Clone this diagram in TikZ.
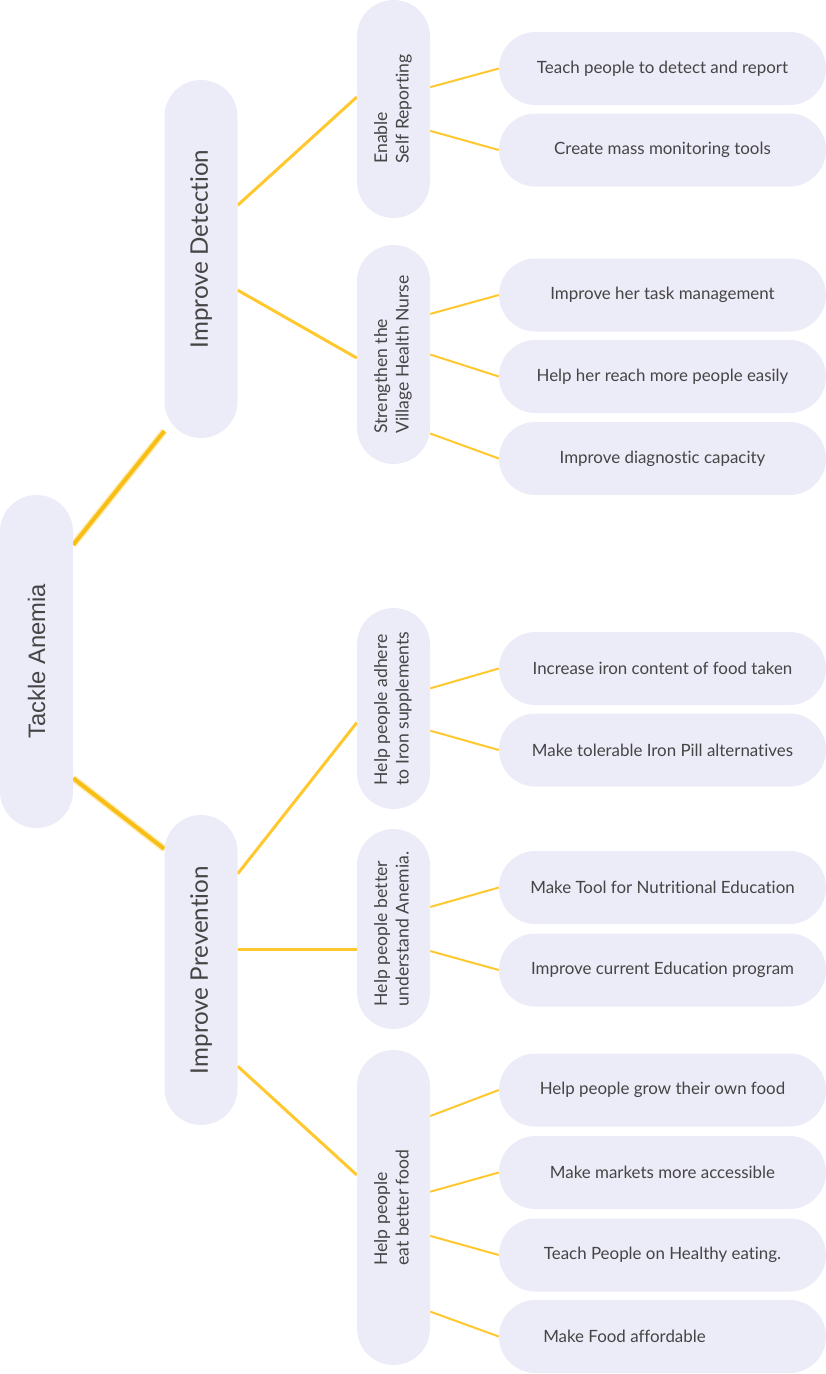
\documentclass[tikz,border=0pt]{standalone}
\usepackage{fontspec}
\setmainfont{Lato}[Ligatures=NoCommon]
\newfontfamily\rootfont{Liberation Sans}
\usetikzlibrary{calc,backgrounds}
\definecolor{pillfill}{HTML}{ECEBF8}
\definecolor{pilltext}{HTML}{454545}
\definecolor{linkcol}{HTML}{FFC82E}
\definecolor{rootcol}{HTML}{F8BE14}
\begin{document}
\begin{tikzpicture}[x=1pt, y=-1pt,
  pill/.style={fill=pillfill, text=pilltext, rounded corners=36.5pt, inner sep=0pt, minimum width=73pt},
  rootpill/.style={pill, minimum height=333pt, font=\rootfont\fontsize{23.8}{28}\selectfont},
  mainpill/.style={pill, font=\fontsize{24.2}{28}\selectfont},
  subpill/.style={pill, font=\fontsize{17.6}{21.5}\selectfont},
  leafpill/.style={pill, minimum width=327pt, minimum height=73pt, font=\fontsize{16.9}{20}\selectfont},
  rootlink/.style={draw=rootcol, line width=4pt, preaction={draw=rootcol, line width=7pt, opacity=0.3}},
  mainlink/.style={draw=linkcol, line width=3pt},
  leaflink/.style={draw=linkcol, line width=2pt}]
\useasboundingbox (0,0) rectangle (826,1374);

\node[rootpill] (anemia) at (36.5,661.5) {\rotatebox{90}{Tackle Anemia}};

\node[mainpill, minimum height=358pt] (detect) at (201,259) {\rotatebox{90}{\hspace*{20pt}Improve Detection}};
\node[mainpill, minimum height=310pt] (prevent) at (201,970) {\rotatebox{90}{Improve Prevention}};

\node[subpill, minimum height=218pt] (selfrep) at (393.5,109) {\rotatebox{90}{\begin{tabular}{@{}l@{}}Enable\\Self Reporting\end{tabular}}};
\node[subpill, minimum height=219pt] (nurse) at (393.5,354.5) {\rotatebox{90}{\begin{tabular}{@{}l@{}}Strengthen the\\Village Health Nurse\end{tabular}}};
\node[subpill, minimum height=201pt] (adhere) at (393.5,708.5) {\rotatebox{90}{\begin{tabular}{@{}l@{}}Help people adhere\\to Iron supplements\end{tabular}}};
\node[subpill, minimum height=200pt] (understand) at (393.5,929) {\rotatebox{90}{\begin{tabular}{@{}l@{}}Help people better\\understand Anemia.\end{tabular}}};
\node[subpill, minimum height=315pt] (eatfood) at (393.5,1207.5) {\rotatebox{90}{\begin{tabular}{@{}l@{}}Help people\\eat better food\end{tabular}}};

\node[leafpill] (teach) at (662.5,68.5) {Teach people to detect and report};
\node[leafpill] (monitor) at (662.5,150) {Create mass monitoring tools};
\node[leafpill] (task) at (662.5,295) {Improve her task management};
\node[leafpill] (reach) at (662.5,376.5) {Help her reach more people easily};
\node[leafpill] (diag) at (662.5,458.5) {Improve diagnostic capacity};
\node[leafpill] (ironfood) at (662.5,668.5) {Increase iron content of food taken};
\node[leafpill] (ironpill) at (662.5,750) {Make tolerable Iron Pill alternatives};
\node[leafpill] (nutri) at (662.5,887.5) {Make Tool for Nutritional Education};
\node[leafpill] (educ) at (662.5,970) {Improve current Education program};
\node[leafpill] (grow) at (662.5,1090) {Help people grow their own food};
\node[leafpill] (market) at (662.5,1172.5) {Make markets more accessible};
\node[leafpill] (healthy) at (662.5,1255) {Teach People on Healthy eating.};
\node[leafpill] (afford) at (662.5,1336.5) {Make Food affordable\hspace*{76pt}};

\begin{pgfonlayer}{background}
\draw[rootlink] ($(anemia.north east)!0.15!(anemia.south east)$) -- ($(detect.north west)!0.98!(detect.south west)$);
\draw[rootlink] ($(anemia.north east)!0.85!(anemia.south east)$) -- ($(prevent.north west)!0.11!(prevent.south west)$);

\coordinate (understand-in) at ($(understand.north west)!0.6!(understand.south west)$);
\draw[mainlink] ($(detect.north east)!0.35!(detect.south east)$) -- ($(selfrep.north west)!0.445!(selfrep.south west)$);
\draw[mainlink] ($(detect.north east)!0.587!(detect.south east)$) -- ($(nurse.north west)!0.516!(nurse.south west)$);
\draw[mainlink] ($(prevent.north east)!0.19!(prevent.south east)$) -- ($(adhere.north west)!0.57!(adhere.south west)$);
\draw[mainlink] (prevent.east |- understand-in) -- (understand-in);
\draw[mainlink] ($(prevent.north east)!0.81!(prevent.south east)$) -- ($(eatfood.north west)!0.397!(eatfood.south west)$);

\foreach \f/\leaf in {0.40/teach, 0.60/monitor}
  \draw[leaflink] ($(selfrep.north east)!\f!(selfrep.south east)$) -- (\leaf.west);
\foreach \f/\leaf in {0.315/task, 0.50/reach, 0.86/diag}
  \draw[leaflink] ($(nurse.north east)!\f!(nurse.south east)$) -- (\leaf.west);
\foreach \f/\leaf in {0.40/ironfood, 0.61/ironpill}
  \draw[leaflink] ($(adhere.north east)!\f!(adhere.south east)$) -- (\leaf.west);
\foreach \f/\leaf in {0.39/nutri, 0.61/educ}
  \draw[leaflink] ($(understand.north east)!\f!(understand.south east)$) -- (\leaf.west);
\foreach \f/\leaf in {0.21/grow, 0.45/market, 0.59/healthy, 0.83/afford}
  \draw[leaflink] ($(eatfood.north east)!\f!(eatfood.south east)$) -- (\leaf.west);
\end{pgfonlayer}
\end{tikzpicture}
\end{document}
